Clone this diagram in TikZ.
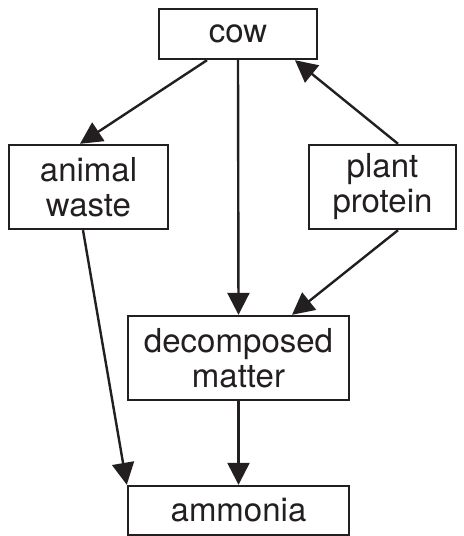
\documentclass[tikz,border=0pt]{standalone}
\usepackage{fontspec}
\setmainfont{TeX Gyre Heros}
\usepackage{xcolor}
\usepackage{tikz}
\usetikzlibrary{arrows.meta, calc}
\definecolor{inkgray}{RGB}{35,31,32}

\begin{document}
\begin{tikzpicture}[x=0.5pt, y=-0.5pt, >={Triangle[length=11pt,width=11pt]},
  box/.style={draw=inkgray, line width=1.2pt, inner sep=0pt, align=center, text=inkgray,
    font=\fontsize{16.5}{17.5}\selectfont},
  link/.style={->, draw=inkgray, line width=1.2pt}]
\useasboundingbox (0,0) rectangle (463,536);
  \node[box, minimum width=79pt, minimum height=25pt] (cow) at (238,34) {cow};
  \node[box, minimum width=79.5pt, minimum height=42pt] (waste) at (88.5,187) {animal\\waste};
  \node[box, minimum width=73.5pt, minimum height=42pt] (plant) at (382.5,187) {plant\\protein};
  \node[box, minimum width=110.5pt, minimum height=42pt] (decomp) at (238.5,358) {decomposed\\matter};
  \node[box, minimum width=110.5pt, minimum height=24.5pt] (ammonia) at (238.5,510.5) {ammonia};
  \draw[link] ([xshift=-15.5pt]cow.south) -- ([xshift=-4.25pt]waste.north);
  \draw[link] (cow.south) -- (decomp.north);
  \draw[link] ([xshift=7.75pt]plant.north) -- ([xshift=28.5pt]cow.south);
  \draw[link] ([xshift=7.75pt]plant.south) -- ([xshift=26.75pt]decomp.north);
  \draw[link] ([xshift=-2.75pt]waste.south) -- (ammonia.north west);
  \draw[link] (decomp.south) -- (ammonia.north);
\end{tikzpicture}
\end{document}
